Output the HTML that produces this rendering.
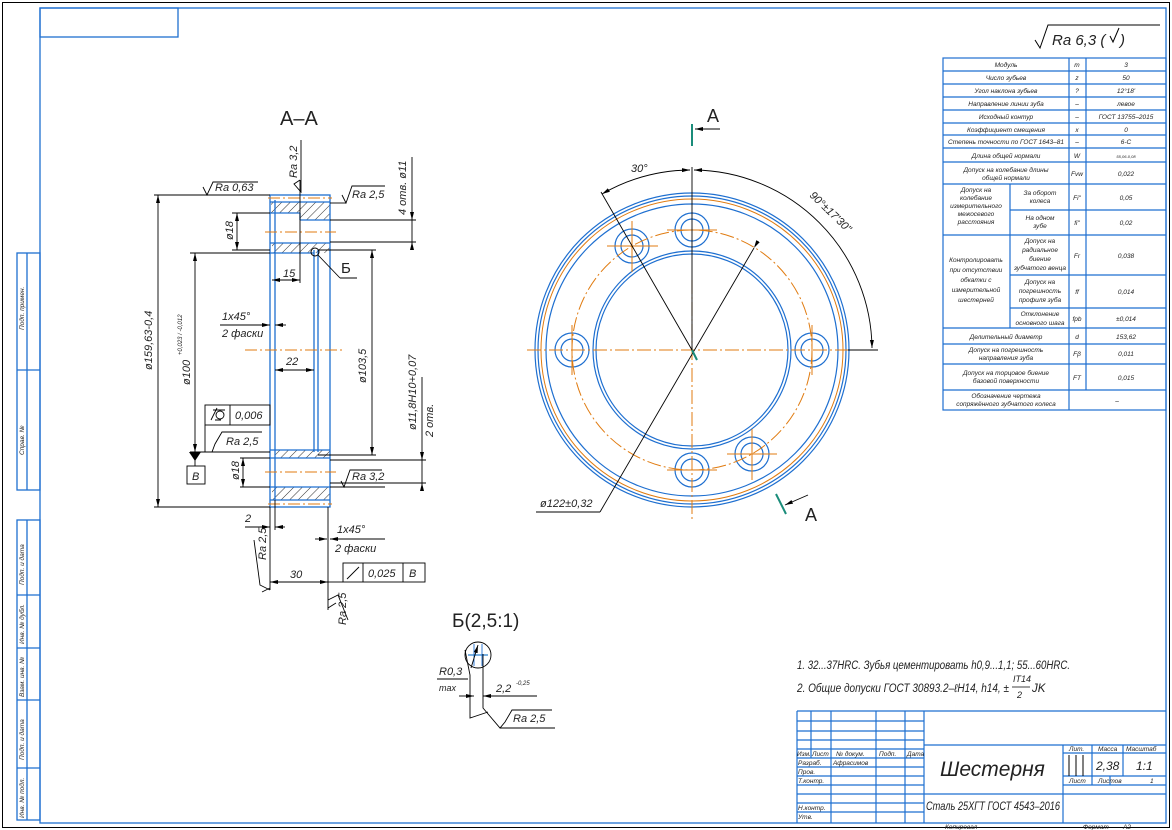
<!DOCTYPE html>
<html><head><meta charset="utf-8"><style>
html,body{margin:0;padding:0;background:#fff;}
svg{display:block;}
text{font-family:"Liberation Sans","DejaVu Sans",sans-serif;font-style:italic;fill:#222;}
</style></head><body>
<svg width="1172" height="830" viewBox="0 0 1172 830" xmlns="http://www.w3.org/2000/svg">
<defs>
<marker id="ar" markerWidth="8" markerHeight="6" refX="8" refY="3" orient="auto" markerUnits="userSpaceOnUse"><path d="M0,1 L8,3 L0,5z" fill="#000"/></marker>
<marker id="al" markerWidth="8" markerHeight="6" refX="0" refY="3" orient="auto" markerUnits="userSpaceOnUse"><path d="M8,1 L0,3 L8,5z" fill="#000"/></marker>
<pattern id="h" width="6" height="6" patternUnits="userSpaceOnUse" patternTransform="rotate(45)"><line x1="0" y1="0" x2="0" y2="6" stroke="#000" stroke-width="0.8"/></pattern>
</defs>
<rect x="0" y="0" width="1172" height="830" fill="#fff"/>
<rect x="2.5" y="2.5" width="1167" height="825" fill="none" stroke="#000" stroke-width="1"/>
<g stroke="#1e6fd0" fill="none" stroke-width="1.3">
<rect x="40" y="8" width="1126" height="815"/>
<rect x="40" y="8" width="138" height="29"/>
<rect x="17" y="253" width="23" height="237"/>
<line x1="27" y1="253" x2="27" y2="490"/><line x1="17" y1="370" x2="40" y2="370"/>
<rect x="17" y="520" width="23" height="300"/>
<line x1="27" y1="520" x2="27" y2="820"/>
<line x1="17" y1="595" x2="40" y2="595"/><line x1="17" y1="648" x2="40" y2="648"/><line x1="17" y1="700" x2="40" y2="700"/><line x1="17" y1="768" x2="40" y2="768"/>
</g>
<g font-size="6.5">
<text transform="translate(24,330) rotate(-90)">Подп. примен.</text>
<text transform="translate(24,455) rotate(-90)">Справ. №</text>
<text transform="translate(24,585) rotate(-90)">Подп. и дата</text>
<text transform="translate(24,644) rotate(-90)">Инв. № дубл.</text>
<text transform="translate(24,697) rotate(-90)">Взам. инв. №</text>
<text transform="translate(24,760) rotate(-90)">Подп. и дата</text>
<text transform="translate(24,818) rotate(-90)">Инв. № подл.</text>
</g>

<path d="M1035,40 L1040,48 L1048,25 L1160,25" stroke="#000" fill="none"/>
<text x="1052" y="45" font-size="15">Ra 6,3 (</text><path d="M1110,36 l3,6 l6,-14" stroke="#000" fill="none"/><text x="1120" y="45" font-size="15">)</text>

<g stroke="#1e6fd0" fill="none" stroke-width="1.2">
<rect x="943" y="58" width="223" height="352"/>
<line x1="1069" y1="58" x2="1069" y2="390"/>
<line x1="1086" y1="58" x2="1086" y2="390"/>
<line x1="1069" y1="390" x2="1069" y2="410"/>
<line x1="1010" y1="184" x2="1010" y2="328"/>
<g>
<line x1="943" y1="71" x2="1166" y2="71"/><line x1="943" y1="84" x2="1166" y2="84"/><line x1="943" y1="97" x2="1166" y2="97"/><line x1="943" y1="110" x2="1166" y2="110"/><line x1="943" y1="123" x2="1166" y2="123"/><line x1="943" y1="135" x2="1166" y2="135"/><line x1="943" y1="148" x2="1166" y2="148"/><line x1="943" y1="162" x2="1166" y2="162"/><line x1="943" y1="184" x2="1166" y2="184"/>
<line x1="1010" y1="210" x2="1166" y2="210"/>
<line x1="943" y1="235" x2="1166" y2="235"/>
<line x1="1010" y1="275" x2="1166" y2="275"/>
<line x1="1010" y1="308" x2="1166" y2="308"/>
<line x1="943" y1="328" x2="1166" y2="328"/><line x1="943" y1="344" x2="1166" y2="344"/><line x1="943" y1="364" x2="1166" y2="364"/><line x1="943" y1="390" x2="1166" y2="390"/>
</g>
</g>
<g font-size="6.5" text-anchor="middle">
<text x="1006" y="67">Модуль</text><text x="1077" y="67">m</text><text x="1126" y="67">3</text>
<text x="1006" y="80">Число зубьев</text><text x="1077" y="80">z</text><text x="1126" y="80">50</text>
<text x="1006" y="93">Угол наклона зубьев</text><text x="1077" y="93">?</text><text x="1126" y="93">12°18'</text>
<text x="1006" y="106">Направление линии зуба</text><text x="1077" y="106">–</text><text x="1126" y="106">левое</text>
<text x="1006" y="119">Исходный контур</text><text x="1077" y="119">–</text><text x="1126" y="119">ГОСТ 13755–2015</text>
<text x="1006" y="132">Коэффициент смещения</text><text x="1077" y="132">x</text><text x="1126" y="132">0</text>
<text x="1006" y="144">Степень точности по ГОСТ 1643–81</text><text x="1077" y="144">–</text><text x="1126" y="144">6-С</text>
<text x="1006" y="158">Длина общей нормали</text><text x="1077" y="158">W</text><text x="1126" y="158" font-size="4">55,06-0,08</text>
<text x="1006" y="172">Допуск на колебание длины</text><text x="1006" y="180">общей нормали</text><text x="1077" y="176">Fvw</text><text x="1126" y="176">0,022</text>
<text x="976" y="192">Допуск на</text><text x="976" y="200">колебание</text><text x="976" y="208">измерительного</text><text x="976" y="216">межосевого</text><text x="976" y="224">расстояния</text>
<text x="1040" y="195">За оборот</text><text x="1040" y="203">колеса</text><text x="1077" y="200">Fi"</text><text x="1126" y="200">0,05</text>
<text x="1040" y="220">На одном</text><text x="1040" y="228">зубе</text><text x="1077" y="225">fi"</text><text x="1126" y="225">0,02</text>
<text x="976" y="262">Контролировать</text><text x="976" y="272">при отсутствии</text><text x="976" y="282">обкатки с</text><text x="976" y="292">измерительной</text><text x="976" y="302">шестерней</text>
<text x="1040" y="243">Допуск на</text><text x="1040" y="252">радиальное</text><text x="1040" y="261">биение</text><text x="1040" y="270">зубчатого венца</text><text x="1077" y="258">Fr</text><text x="1126" y="258">0,038</text>
<text x="1040" y="284">Допуск на</text><text x="1040" y="293">погрешность</text><text x="1040" y="302">профиля зуба</text><text x="1077" y="294">ff</text><text x="1126" y="294">0,014</text>
<text x="1040" y="316">Отклонение</text><text x="1040" y="325">основного шага</text><text x="1077" y="321">fpb</text><text x="1126" y="321">±0,014</text>
<text x="1006" y="339">Делительный диаметр</text><text x="1077" y="339">d</text><text x="1126" y="339">153,62</text>
<text x="1006" y="352">Допуск на погрешность</text><text x="1006" y="360">направления зуба</text><text x="1077" y="356">Fβ</text><text x="1126" y="356">0,011</text>
<text x="1006" y="375">Допуск на торцовое биение</text><text x="1006" y="383">базовой поверхности</text><text x="1077" y="380">FT</text><text x="1126" y="380">0,015</text>
<text x="1006" y="398">Обозначение чертежа</text><text x="1006" y="406">сопряжённого зубчатого колеса</text><text x="1117" y="403">–</text>
</g>

<text x="280" y="125" font-size="20" style="font-style:normal">А–А</text>
<g fill="url(#h)" stroke="none">
<rect x="271" y="202" width="59" height="11"/>
<rect x="300" y="213" width="30" height="7"/>
<rect x="272" y="243" width="58" height="10"/>
<rect x="275" y="450" width="55" height="8"/>
<rect x="272" y="487" width="58" height="13"/>
</g>
<g stroke="#1e6fd0" fill="none" stroke-width="1.3">
<rect x="270" y="195" width="60" height="312"/>
<line x1="275" y1="200" x2="275" y2="500"/>
<line x1="270" y1="202" x2="330" y2="202"/><line x1="270" y1="500" x2="330" y2="500"/>
<line x1="270" y1="213" x2="300" y2="213"/><line x1="300" y1="213" x2="300" y2="220"/><line x1="300" y1="220" x2="330" y2="220"/>
<line x1="270" y1="243" x2="330" y2="243"/><line x1="270" y1="253" x2="314" y2="253"/>
<line x1="314" y1="250" x2="314" y2="452"/><line x1="318" y1="250" x2="318" y2="452"/>
<line x1="270" y1="450" x2="330" y2="450"/><line x1="270" y1="458" x2="330" y2="458"/><line x1="270" y1="487" x2="330" y2="487"/>
<circle cx="315" cy="252" r="4" stroke="#000" stroke-width="1"/>
</g>
<g stroke="#e07b10" stroke-dasharray="12,3,2,3" stroke-width="1">
<line x1="265" y1="232" x2="336" y2="232"/>
<line x1="265" y1="472" x2="336" y2="472"/>
<line x1="245" y1="350" x2="345" y2="350"/>
<line x1="268" y1="198" x2="332" y2="198"/>
<line x1="268" y1="504" x2="332" y2="504"/>
</g>
<g stroke="#000" stroke-width="0.9" fill="none">
<line x1="154" y1="195" x2="270" y2="195"/><line x1="154" y1="507" x2="270" y2="507"/>
<line x1="158" y1="195" x2="158" y2="507" marker-start="url(#al)" marker-end="url(#ar)"/>
<line x1="190" y1="253" x2="270" y2="253"/><line x1="190" y1="452" x2="270" y2="452"/>
<line x1="195" y1="253" x2="195" y2="452" marker-start="url(#al)" marker-end="url(#ar)"/>
<line x1="318" y1="250" x2="376" y2="250"/><line x1="318" y1="455" x2="376" y2="455"/>
<line x1="372" y1="250" x2="372" y2="455" marker-start="url(#al)" marker-end="url(#ar)"/>
<line x1="232" y1="213" x2="270" y2="213"/><line x1="232" y1="250" x2="270" y2="250"/>
<line x1="237" y1="213" x2="237" y2="250" marker-start="url(#al)" marker-end="url(#ar)"/>
<line x1="240" y1="458" x2="270" y2="458"/><line x1="240" y1="487" x2="270" y2="487"/>
<line x1="243" y1="458" x2="243" y2="487" marker-start="url(#al)" marker-end="url(#ar)"/>
<line x1="330" y1="220" x2="416" y2="220"/><line x1="330" y1="242" x2="416" y2="242"/>
<line x1="412" y1="157" x2="412" y2="242"/>
<line x1="412" y1="212" x2="412" y2="220" marker-end="url(#ar)"/><line x1="412" y1="250" x2="412" y2="242" marker-end="url(#ar)"/>
<line x1="330" y1="460" x2="426" y2="460"/><line x1="330" y1="483" x2="426" y2="483"/>
<line x1="422" y1="377" x2="422" y2="483"/>
<line x1="422" y1="452" x2="422" y2="460" marker-end="url(#ar)"/><line x1="422" y1="491" x2="422" y2="483" marker-end="url(#ar)"/>
<line x1="300" y1="243" x2="300" y2="283"/>
<line x1="272" y1="280" x2="300" y2="280" marker-start="url(#al)" marker-end="url(#ar)"/>
<line x1="275" y1="370" x2="314" y2="370" marker-start="url(#al)" marker-end="url(#ar)"/>
<line x1="220" y1="325" x2="262" y2="325"/><line x1="259" y1="325" x2="270" y2="325" marker-end="url(#ar)"/><line x1="286" y1="325" x2="275" y2="325" marker-end="url(#ar)"/>
<line x1="245" y1="527" x2="270" y2="527" marker-end="url(#ar)"/><line x1="285" y1="527" x2="275" y2="527" marker-end="url(#ar)"/>
<line x1="275" y1="500" x2="275" y2="530"/><line x1="270" y1="507" x2="270" y2="590"/>
<line x1="315" y1="539" x2="327" y2="539" marker-end="url(#ar)"/><line x1="342" y1="539" x2="330" y2="539" marker-end="url(#ar)"/>
<line x1="330" y1="539" x2="385" y2="539"/>
<line x1="328" y1="507" x2="328" y2="610"/>
<line x1="270" y1="582" x2="328" y2="582" marker-start="url(#al)" marker-end="url(#ar)"/>
<line x1="328" y1="582" x2="343" y2="582"/>
<line x1="318" y1="255" x2="340" y2="278"/><line x1="340" y1="278" x2="357" y2="278"/>
<path d="M203,187 L207,195 L213,182 L258,182"/><line x1="190" y1="195" x2="270" y2="195"/>
<path d="M342,195 L346,203 L352,186 L385,186"/><line x1="330" y1="203" x2="346" y2="203"/>
<path d="M300,180 L294,184 L301,192 L301,140"/><line x1="300" y1="180" x2="300" y2="248"/>
<path d="M212,452 L215,444 L222,432 L262,432"/><line x1="195" y1="452" x2="270" y2="452"/>
<path d="M341,481 L344,487 L350,470 L382,470"/><line x1="330" y1="487" x2="385" y2="487"/>
<path d="M270,590 L260,585 L254,540"/><path d="M262,592 L270,588"/>
<path d="M328,600 L338,595 L348,620"/><path d="M328,608 L336,603"/>
<rect x="205" y="405" width="65" height="20"/><line x1="230" y1="405" x2="230" y2="425"/>
<line x1="205" y1="425" x2="205" y2="452"/>
<rect x="343" y="563" width="82" height="19"/><line x1="363" y1="563" x2="363" y2="582"/><line x1="403" y1="563" x2="403" y2="582"/>
<line x1="347" y1="579" x2="359" y2="567"/>
<path d="M211,420 l6,-12 M213,410 h12 M215,420 h6"/>
<circle cx="220" cy="415" r="4"/>
<rect x="187" y="466" width="18" height="18"/><line x1="195" y1="460" x2="195" y2="466"/>
</g>
<path d="M189,452 L201,452 L195,461z" fill="#000"/>
<g font-size="11">
<text transform="translate(152,370) rotate(-90)">ø159,63-0,4</text>
<text transform="translate(190,385) rotate(-90)">ø100</text><text transform="translate(182,355) rotate(-90)" font-size="6">+0,023 / -0,012</text>
<text transform="translate(366,383) rotate(-90)">ø103,5</text>
<text transform="translate(233,240) rotate(-90)">ø18</text>
<text transform="translate(239,480) rotate(-90)">ø18</text>
<text transform="translate(406,215) rotate(-90)">4 отв. ø11</text>
<text transform="translate(416,430) rotate(-90)">ø11,8H10+0,07</text>
<text transform="translate(433,437) rotate(-90)">2 отв.</text>
<text transform="translate(297,178) rotate(-90)">Ra 3,2</text>
<text transform="translate(266,560) rotate(-90)">Ra 2,5</text>
<text transform="translate(346,625) rotate(-90)">Ra 2,5</text>
<text x="283" y="277">15</text>
<text x="286" y="365">22</text>
<text x="222" y="320">1х45°</text><text x="222" y="337">2 фаски</text>
<text x="245" y="522">2</text>
<text x="337" y="533">1х45°</text><text x="335" y="552">2 фаски</text>
<text x="290" y="578">30</text>
<text x="215" y="191">Ra 0,63</text>
<text x="352" y="198">Ra 2,5</text>
<text x="226" y="445">Ra 2,5</text>
<text x="352" y="480">Ra 3,2</text>
<text x="235" y="419">0,006</text>
<text x="368" y="577">0,025</text><text x="409" y="577">В</text>
<text x="192" y="480">В</text>
<text x="341" y="273" font-size="15" style="font-style:normal">Б</text>
</g>

<g stroke="#1e6fd0" fill="none" stroke-width="1.2">
<circle cx="692" cy="350" r="157"/><circle cx="692" cy="350" r="154"/><circle cx="692" cy="350" r="146"/>
<circle cx="692" cy="350" r="99"/><circle cx="692" cy="350" r="96"/>
<circle cx="812" cy="350" r="17"/><circle cx="812" cy="350" r="11"/>
<circle cx="692" cy="230" r="17"/><circle cx="692" cy="230" r="11"/>
<circle cx="632" cy="246" r="17"/><circle cx="632" cy="246" r="11"/>
<circle cx="572" cy="350" r="17"/><circle cx="572" cy="350" r="11"/>
<circle cx="692" cy="470" r="17"/><circle cx="692" cy="470" r="11"/>
<circle cx="752" cy="454" r="17"/><circle cx="752" cy="454" r="11"/>
</g>
<g stroke="#e07b10" fill="none" stroke-width="1">
<circle cx="692" cy="350" r="151"/>
<circle cx="692" cy="350" r="120" stroke-dasharray="14,3,2,3"/>
<line x1="527" y1="350" x2="860" y2="350" stroke-dasharray="14,3,2,3"/>
<line x1="692" y1="280" x2="692" y2="520" stroke-dasharray="14,3,2,3"/>
<line x1="607" y1="246" x2="658" y2="246"/><line x1="632" y1="221" x2="632" y2="272"/>
<line x1="667" y1="230" x2="717" y2="230"/>
<line x1="667" y1="470" x2="717" y2="470"/>
<line x1="727" y1="454" x2="777" y2="454"/><line x1="752" y1="429" x2="752" y2="480"/>
<line x1="572" y1="325" x2="572" y2="375"/><line x1="812" y1="325" x2="812" y2="375"/>
</g>
<g stroke="#000" fill="none" stroke-width="0.9">
<line x1="692" y1="167" x2="692" y2="350"/>
<line x1="692" y1="350" x2="601" y2="192"/>
<line x1="754" y1="248" x2="600" y2="512" marker-start="url(#ar)"/>
<line x1="600" y1="512" x2="536" y2="512"/>
<path d="M602,194 A180,180 0 0 1 690,170" marker-start="url(#al)" marker-end="url(#ar)"/>
<path d="M694,170 A180,180 0 0 1 872,348" marker-start="url(#al)" marker-end="url(#ar)"/>
<line x1="848" y1="350" x2="878" y2="350"/>
<line x1="720" y1="129" x2="695" y2="129" marker-end="url(#ar)"/>
<line x1="808" y1="495" x2="785" y2="505" marker-end="url(#ar)"/>
</g>
<g stroke="#1a8c7a" stroke-width="2">
<line x1="692" y1="124" x2="692" y2="146"/>
<line x1="776" y1="494" x2="786" y2="514"/>
<line x1="692" y1="350" x2="697" y2="360"/>
</g>
<g font-size="11">
<text x="631" y="172">30°</text>
<text transform="translate(809,196) rotate(44)">90°±17'30"</text>
<text x="540" y="507">ø122±0,32</text>
</g>
<text x="707" y="122" font-size="18" style="font-style:normal">A</text>
<text x="805" y="521" font-size="18" style="font-style:normal">A</text>

<text x="452" y="627" font-size="19" style="font-style:normal">Б(2,5:1)</text>
<g stroke="#000" fill="none" stroke-width="0.9">
<circle cx="478" cy="655" r="13"/>
<line x1="468" y1="655" x2="488" y2="655" stroke="#7ab0e0" stroke-width="2"/>
<line x1="474" y1="644" x2="474" y2="666" stroke="#1e6fd0"/><line x1="482" y1="644" x2="482" y2="666" stroke="#1e6fd0"/>
<line x1="471" y1="668" x2="478" y2="645" marker-end="url(#ar)"/>
<path d="M465,650 L470,675 L470,718 L488,712"/>
<line x1="437" y1="679" x2="468" y2="679"/>
<path d="M483,654 L483,708 L500,728 L505,722 L512,710 L552,710"/>
<line x1="459" y1="696" x2="474" y2="696" marker-end="url(#ar)"/><line x1="495" y1="696" x2="483" y2="696" marker-end="url(#ar)"/>
<line x1="483" y1="696" x2="537" y2="696"/>
<line x1="500" y1="728" x2="555" y2="728"/>
</g>
<g font-size="11">
<text x="439" y="675">R0,3</text><text x="439" y="691" font-size="9">max</text>
<text x="496" y="692">2,2</text><text x="516" y="685" font-size="6">-0,25</text>
<text x="513" y="722">Ra 2,5</text>
</g>

<text x="797" y="669" font-size="11.5" textLength="273" lengthAdjust="spacingAndGlyphs">1. 32...37HRC. Зубья цементировать h0,9...1,1; 55...60HRC.</text>
<text x="797" y="692" font-size="11.5" textLength="212" lengthAdjust="spacingAndGlyphs">2. Общие допуски ГОСТ 30893.2–ℓH14, h14, ±</text>
<text x="1013" y="682" font-size="9">IT14</text><line x1="1012" y1="687" x2="1030" y2="687" stroke="#000" stroke-width="0.8"/><text x="1017" y="698" font-size="9">2</text>
<text x="1032" y="692" font-size="11.5">JK</text>

<g stroke="#1e6fd0" fill="none" stroke-width="1.2">
<line x1="797" y1="711" x2="1166" y2="711"/>
<line x1="797" y1="711" x2="797" y2="823"/>
<line x1="811" y1="711" x2="811" y2="758"/><line x1="831" y1="711" x2="831" y2="823"/>
<line x1="876" y1="711" x2="876" y2="823"/><line x1="905" y1="711" x2="905" y2="823"/>
<line x1="924" y1="711" x2="924" y2="823"/>
<line x1="797" y1="721" x2="924" y2="721"/><line x1="797" y1="731" x2="924" y2="731"/><line x1="797" y1="740" x2="924" y2="740"/>
<line x1="797" y1="749" x2="924" y2="749"/><line x1="797" y1="758" x2="924" y2="758"/><line x1="797" y1="767" x2="924" y2="767"/>
<line x1="797" y1="776" x2="924" y2="776"/><line x1="797" y1="785" x2="924" y2="785"/><line x1="797" y1="794" x2="924" y2="794"/>
<line x1="797" y1="803" x2="924" y2="803"/><line x1="797" y1="812" x2="924" y2="812"/>
<line x1="924" y1="745" x2="1166" y2="745"/>
<line x1="924" y1="794" x2="1166" y2="794"/>
<line x1="1063" y1="745" x2="1063" y2="823"/>
<line x1="1092" y1="745" x2="1092" y2="785"/><line x1="1123" y1="745" x2="1123" y2="776"/>
<line x1="1063" y1="753" x2="1166" y2="753"/><line x1="1063" y1="776" x2="1166" y2="776"/><line x1="1063" y1="785" x2="1166" y2="785"/>
<line x1="1110" y1="776" x2="1110" y2="785"/>
</g>
<g stroke="#000" stroke-width="1"><line x1="1069" y1="755" x2="1069" y2="776"/><line x1="1076" y1="755" x2="1076" y2="776"/><line x1="1083" y1="755" x2="1083" y2="776"/></g>
<g font-size="6.5">
<text x="797" y="756">Изм.</text><text x="812" y="756">Лист</text><text x="836" y="756">№ докум.</text><text x="879" y="756">Подп.</text><text x="907" y="756">Дата</text>
<text x="798" y="765">Разраб.</text><text x="833" y="765">Афрасимов</text>
<text x="798" y="774">Пров.</text><text x="798" y="783">Т.контр.</text>
<text x="798" y="810">Н.контр.</text><text x="798" y="819">Утв.</text>
<text x="1069" y="751">Лит.</text><text x="1098" y="751">Масса</text><text x="1126" y="751">Масштаб</text>
<text x="1069" y="783">Лист</text><text x="1098" y="783">Листов</text><text x="1150" y="783">1</text>
<text x="945" y="829">Копировал</text><text x="1083" y="829">Формат</text><text x="1123" y="829">A2</text>
</g>
<text x="940" y="776" font-size="21">Шестерня</text>
<text x="926" y="810" font-size="12" textLength="134" lengthAdjust="spacingAndGlyphs">Сталь 25ХГТ ГОСТ 4543–2016</text>
<text x="1096" y="770" font-size="12">2,38</text><text x="1136" y="770" font-size="12">1:1</text>
</svg>
</body></html>
